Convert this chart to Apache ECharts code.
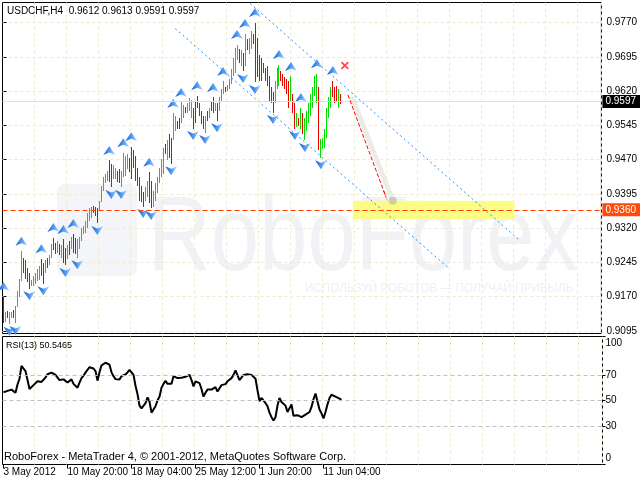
<!DOCTYPE html>
<html><head><meta charset="utf-8">
<script src="https://cdn.jsdelivr.net/npm/echarts@6/dist/echarts.min.js"></script>
<style>html,body{margin:0;padding:0;background:#fff}#c{width:640px;height:481px}</style>
</head><body><div id="c"></div>
<script>
// ---------- data ----------
const symbolName = 'USDCHF,H4';
const lastOHLC = [0.9612, 0.9613, 0.9591, 0.9597];
const timeLabels = ['3 May 2012', '10 May 20:00', '18 May 04:00', '25 May 12:00', '1 Jun 20:00', '11 Jun 04:00'];
const labelStep = 32;
const gridStep = 16;
const totalSlots = 300;

const highs = [
0.9170,0.9137,0.9139,0.9135,0.9137,0.9141,0.9150,0.9183,0.9209,0.9269,
0.9255,0.9249,0.9233,0.9222,0.9207,0.9214,0.9222,0.9231,0.9236,0.9253,
0.9244,0.9249,0.9255,0.9260,0.9286,0.9299,0.9288,0.9292,0.9286,0.9282,
0.9295,0.9277,0.9282,0.9292,0.9301,0.9308,0.9299,0.9297,0.9301,0.9321,
0.9325,0.9336,0.9354,0.9363,0.9365,0.9369,0.9367,0.9363,0.9380,0.9413,
0.9431,0.9439,0.9446,0.9468,0.9461,0.9457,0.9452,0.9446,0.9450,0.9446,
0.9485,0.9477,0.9483,0.9474,0.9498,0.9490,0.9477,0.9452,0.9431,0.9413,
0.9398,0.9409,0.9424,0.9442,0.9424,0.9402,0.9418,0.9431,0.9452,0.9472,
0.9496,0.9505,0.9512,0.9527,0.9518,0.9571,0.9566,0.9555,0.9560,0.9595,
0.9590,0.9586,0.9593,0.9604,0.9601,0.9584,0.9599,0.9610,0.9593,0.9577,
0.9566,0.9566,0.9577,0.9584,0.9599,0.9606,0.9593,0.9593,0.9606,0.9625,
0.9641,0.9630,0.9634,0.9647,0.9669,0.9693,0.9715,0.9722,0.9713,0.9709,
0.9704,0.9746,0.9735,0.9737,0.9752,0.9746,0.9770,0.9737,0.9698,0.9693,
0.9682,0.9671,0.9676,0.9654,0.9628,0.9617,0.9643,0.9671,0.9678,0.9665,
0.9658,0.9650,0.9647,0.9643,0.9652,0.9614,0.9593,0.9571,0.9562,0.9584,
0.9571,0.9562,0.9577,0.9593,0.9614,0.9628,0.9654,0.9658,0.9628,0.9516,
0.9518,0.9538,0.9584,0.9606,0.9628,0.9643,0.9628,0.9632,0.9625,0.9613];

const lows = [
0.9113,0.9115,0.9122,0.9109,0.9122,0.9124,0.9111,0.9148,0.9168,0.9205,
0.9222,0.9209,0.9201,0.9187,0.9192,0.9194,0.9198,0.9205,0.9207,0.9214,
0.9198,0.9222,0.9233,0.9238,0.9255,0.9271,0.9264,0.9266,0.9260,0.9255,
0.9244,0.9238,0.9253,0.9260,0.9275,0.9266,0.9264,0.9255,0.9275,0.9292,
0.9306,0.9310,0.9319,0.9336,0.9341,0.9352,0.9347,0.9330,0.9358,0.9376,
0.9402,0.9418,0.9422,0.9420,0.9409,0.9428,0.9428,0.9420,0.9418,0.9409,
0.9431,0.9433,0.9450,0.9442,0.9428,0.9452,0.9424,0.9413,0.9380,0.9376,
0.9367,0.9380,0.9387,0.9374,0.9363,0.9367,0.9380,0.9396,0.9418,0.9431,
0.9439,0.9483,0.9468,0.9474,0.9461,0.9512,0.9533,0.9538,0.9538,0.9549,
0.9562,0.9573,0.9571,0.9577,0.9562,0.9538,0.9549,0.9584,0.9566,0.9547,
0.9538,0.9529,0.9555,0.9562,0.9577,0.9573,0.9577,0.9555,0.9577,0.9599,
0.9614,0.9617,0.9621,0.9625,0.9636,0.9654,0.9660,0.9687,0.9682,0.9676,
0.9663,0.9676,0.9709,0.9702,0.9713,0.9724,0.9639,0.9650,0.9643,0.9641,
0.9660,0.9643,0.9632,0.9599,0.9593,0.9573,0.9593,0.9625,0.9632,0.9643,
0.9632,0.9625,0.9614,0.9584,0.9599,0.9571,0.9538,0.9542,0.9544,0.9538,
0.9527,0.9512,0.9533,0.9549,0.9566,0.9584,0.9610,0.9593,0.9490,0.9474,
0.9494,0.9496,0.9518,0.9562,0.9584,0.9606,0.9593,0.9599,0.9582,0.9591];

// u = up bar (green), d = down bar (red)
const dirs = 'duduuduuuu' + 'dddduuuuud' + 'duduuddudu' + 'ddududduuu' + 'uuuuuddduu' +
             'uuudduuddu' + 'uuuddddddd' + 'duudduuuuu' + 'ududduuddu' + 'uduuuddddd' +
             'dududduduu' + 'uduuuuuudu' + 'duduuddddd' + 'dddddduuud' + 'dddduddudu' +
             'duuuuuuudu' + 'uuuuudddud';

const rsi = [
56.5,57,57.5,57.8,58.5,59,56,62.5,67,77,
78,73,66,59,60,62,63.3,65,64.5,64.5,
65,68,70.5,71.5,71.8,71,70,69,66,64.5,
66.5,66,64,65,66.5,63,61.5,60,64,67.5,
69.5,71.8,74,76,77,75,73,65.5,72,77.5,
79,79.5,80.3,78,72,69,66.7,65.5,66.5,69,
70.5,70.3,72,74,75,70,61.5,55,46,43.8,
44,48,52.5,49,40.5,43,45.5,50,53,60,
63,65.4,63,64,63,69,68,67.5,67.5,67.8,
68,68.5,68.5,70,66,61,65,64.5,63.5,59,
53,56,58.5,59,58.5,59,60.5,57,56,62,
62.8,62.8,65,66.5,67.5,70,73.6,72.5,66,66,
70,70.5,70.5,70.3,70,70.5,67,58,49.5,52,
51,48,45.5,40.5,37,34.3,37,46,52,48.8,
48.8,46,41,42,47,38,37.5,38.5,38.5,37,
36.4,39,39.5,41,45,51,55.5,54,43,40,
36,41,47,52,54.5,55.5,53,53,51.5,50.5465];

const fracUp = [0,9,19,25,30,35,53,60,64,73,85,89,97,105,110,117,121,126,138,144,149,157,165];
const fracDown = [3,6,13,20,31,37,47,54,59,70,74,84,95,101,107,120,126,135,146,151,159];

const priceTicks = [0.9095,0.9170,0.9245,0.9320,0.9395,0.9470,0.9545,0.9620,0.9695,0.9770];
const rsiTicks = [0,30,50,70,100];
const rsiLevels = [30,50,70];
const bidPrice = 0.9597;
const targetLevel = 0.9360;

// drawn objects, in [bar index, price]
const channelUpper = [[123.5, 0.9812], [258.5, 0.9293]];
const channelLower = [[86, 0.9757], [222.5, 0.9234]];
const targetZone = [[175, 0.9380], [256, 0.9339]];
const forecastArrow = [[172.5, 0.9612], [191.5, 0.9389]];
const forecastShadow = [[174.5, 0.9608], [195, 0.9380]];
const stopMark = [[171, 0.9676]];

// ---------- chart ----------
const FONT = "'Liberation Sans',Arial,sans-serif";
const UP = '#00e000', DOWN = '#ee0000', GRIDC = '#ecebd0';
const cats = Array.from({length: totalSlots}, (_, i) => String(i));
const barData = highs.map((h, i) => [i, lows[i], h, dirs[i] === 'u' ? 1 : 0]);
const isLabel = (i) => i % labelStep === 0 && i / labelStep < timeLabels.length;
const isGrid = (i) => i > 0 && i % gridStep === 0;

const chart = echarts.init(document.getElementById('c'), null, {renderer: 'canvas'});
const arrowFill = () => new echarts.graphic.LinearGradient(0, 0, 1, 0, [
  {offset: 0, color: '#1a5fd4'}, {offset: 0.5, color: '#4a98f2'}, {offset: 1, color: '#c2e0ff'}]);
const upArrow = 'path://M6,0 L12,9 L6,6.5 L0,9 Z';
const downArrow = 'path://M0,0 L6,2.5 L12,0 L6,9 Z';
const xMark = 'path://M0,1.5 L1.5,0 L5,3.5 L8.5,0 L10,1.5 L6.5,5 L10,8.5 L8.5,10 L5,6.5 L1.5,10 L0,8.5 L3.5,5 Z';

const option = {
  animation: false,
  grid: [
    {left: 2.5, top: 2.5, width: 600, height: 331, show: true, borderColor: '#000', borderWidth: 1},
    {left: 2.5, top: 336.5, width: 600, height: 128, show: true, borderColor: '#000', borderWidth: 1}
  ],
  xAxis: [
    {type: 'category', gridIndex: 0, data: cats, boundaryGap: true,
     axisLine: {show: false}, axisTick: {show: false}, axisLabel: {show: false},
     splitLine: {show: true, interval: isGrid, lineStyle: {color: GRIDC, type: [3, 3]}}},
    {type: 'category', gridIndex: 1, data: cats, boundaryGap: true,
     axisLine: {show: false},
     axisTick: {show: true, alignWithLabel: true, interval: isLabel, length: 4, lineStyle: {color: '#000'}},
     axisLabel: {show: true, interval: isLabel, formatter: (v, i) => timeLabels[i / labelStep] || '',
                 align: 'left', margin: 3, fontFamily: FONT, fontSize: 10, color: '#000'},
     splitLine: {show: true, interval: isGrid, lineStyle: {color: GRIDC, type: [3, 3]}}},
    {type: 'value', gridIndex: 0, min: -0.5, max: totalSlots - 0.5, show: false}
  ],
  yAxis: [
    {type: 'value', gridIndex: 0, position: 'right', min: 0.9089, max: 0.9814, scale: true,
     axisLine: {show: false},
     axisTick: {show: true, customValues: priceTicks, length: 3, lineStyle: {color: '#000'}},
     axisLabel: {customValues: priceTicks, formatter: v => v.toFixed(4), margin: 5,
                 fontFamily: FONT, fontSize: 10, color: '#000'},
     splitLine: {show: true, lineStyle: {color: GRIDC, type: [3, 3]}}},
    {type: 'value', gridIndex: 1, position: 'right', min: 0, max: 100,
     axisLine: {show: false},
     axisTick: {show: true, customValues: rsiTicks, length: 3, lineStyle: {color: '#000'}},
     axisLabel: {customValues: rsiTicks, margin: 3, fontFamily: FONT, fontSize: 10, color: '#000',
                 formatter: v => v === 100 ? '{t|100}' : (v === 0 ? '{b|0}' : String(v)),
                 rich: {t: {padding: [14, 0, 0, 0], fontFamily: FONT, fontSize: 10, color: '#000'},
                        b: {padding: [0, 0, 12, 0], fontFamily: FONT, fontSize: 10, color: '#000'}}},
     splitLine: {show: false}}
  ],
  graphic: [
    {type: 'rect', z: 0, silent: true, shape: {x: 57, y: 184, width: 80, height: 92, r: 8}, style: {fill: '#f3f5f8'}},
    {type: 'text', z: 0, silent: true, x: 148, y: 241, scaleX: 0.82,
     style: {text: 'RoboForex', font: '106px "Liberation Sans"', fill: '#f0f2f6', verticalAlign: 'middle'}},
    {type: 'text', z: 0, silent: true, x: 305, y: 288, scaleX: 0.9,
     style: {text: 'ИСПОЛЬЗУЙ РОБОТОВ — ПОЛУЧАЙ ПРИБЫЛЬ', font: '13px "Liberation Sans"', fill: '#eef0f3', verticalAlign: 'middle'}},
    {type: 'text', z: 10, x: 7, y: 11,
     style: {text: symbolName + '  ' + lastOHLC.map(v => v.toFixed(4)).join(' '), font: '10px ' + FONT, fill: '#000', verticalAlign: 'middle'}},
    {type: 'text', z: 10, x: 6, y: 346,
     style: {text: 'RSI(13) ' + rsi[rsi.length - 1].toFixed(4), font: '9px ' + FONT, fill: '#000', verticalAlign: 'middle'}},
    {type: 'text', z: 10, x: 4, y: 457,
     style: {text: 'RoboForex - MetaTrader 4, © 2001-2012, MetaQuotes Software Corp.', font: '11px ' + FONT, fill: '#000', verticalAlign: 'middle'}}
  ],
  series: [
    {name: 'zone', type: 'line', xAxisIndex: 2, yAxisIndex: 0, data: [], z: 1, silent: true,
     markArea: {silent: true, itemStyle: {color: '#fbfb86'},
                data: [[{coord: targetZone[0]}, {coord: targetZone[1]}]]}},
    {name: 'bid', type: 'line', xAxisIndex: 2, yAxisIndex: 0, data: [], z: 1, silent: true,
     markLine: {silent: true, symbol: ['none', 'none'], precision: 4, animation: false,
                lineStyle: {color: '#e2e2c6', type: 'solid', width: 1},
                data: [{yAxis: bidPrice,
                        label: {show: true, position: 'end', distance: 1, formatter: bidPrice.toFixed(4),
                                color: '#fff', backgroundColor: '#000', padding: [2, 4, 1, 3], fontFamily: FONT, fontSize: 10}}]}},
    {name: 'shadow', type: 'line', xAxisIndex: 2, yAxisIndex: 0, data: forecastShadow, z: 1, silent: true,
     symbol: 'none', lineStyle: {color: '#ecece4', width: 5}},
    {name: 'bars', type: 'custom', xAxisIndex: 0, yAxisIndex: 0, z: 2, silent: true,
     encode: {x: 0, y: [1, 2]}, data: barData,
     renderItem: (params, api) => {
       const i = api.value(0);
       const lo = api.coord([i, api.value(1)]);
       const hi = api.coord([i, api.value(2)]);
       const x = Math.floor(lo[0]);
       const y = Math.round(hi[1]);
       const up = api.value(3) === 1;
       return {type: 'rect', shape: {x: x, y: y, width: 1, height: Math.max(1, Math.round(lo[1]) - y)},
               style: {fill: up ? UP : DOWN, stroke: null, opacity: 1}};
     }},
    {name: 'fractalUp', type: 'scatter', xAxisIndex: 0, yAxisIndex: 0, z: 3, silent: true,
     data: fracUp.map(i => [i, highs[i]]), symbol: upArrow, symbolSize: [12, 9], symbolOffset: [0, -10],
     itemStyle: {color: arrowFill(), opacity: 1}},
    {name: 'fractalDown', type: 'scatter', xAxisIndex: 0, yAxisIndex: 0, z: 3, silent: true,
     data: fracDown.map(i => [i, lows[i]]), symbol: downArrow, symbolSize: [12, 9], symbolOffset: [0, 7],
     itemStyle: {color: arrowFill(), opacity: 1}},
    {name: 'channelUpper', type: 'line', xAxisIndex: 2, yAxisIndex: 0, data: channelUpper, z: 4, silent: true,
     symbol: 'none', lineStyle: {color: '#1e90ff', width: 1, type: [2, 3]}},
    {name: 'channelLower', type: 'line', xAxisIndex: 2, yAxisIndex: 0, data: channelLower, z: 4, silent: true,
     symbol: 'none', lineStyle: {color: '#1e90ff', width: 1, type: [2, 3]}},
    {name: 'target', type: 'line', xAxisIndex: 2, yAxisIndex: 0, data: [], z: 5, silent: true,
     markLine: {silent: true, symbol: ['none', 'none'], precision: 4, animation: false,
                lineStyle: {color: '#ff4000', type: [5, 3], width: 1},
                data: [{yAxis: targetLevel,
                        label: {show: true, position: 'end', distance: 1, formatter: targetLevel.toFixed(4),
                                color: '#fff', backgroundColor: '#ff4a0a', padding: [2, 4, 1, 3], fontFamily: FONT, fontSize: 10}}]}},
    {name: 'forecast', type: 'line', xAxisIndex: 2, yAxisIndex: 0, data: [], z: 6, silent: true,
     markLine: {silent: true, symbol: ['none', 'triangle'], symbolSize: [1, 12], precision: 4, animation: false,
                lineStyle: {color: '#ff0000', type: [4, 2], width: 1}, label: {show: false},
                data: [[{coord: forecastArrow[0]}, {coord: forecastArrow[1]}]]}},
    {name: 'shadowEnd', type: 'scatter', xAxisIndex: 2, yAxisIndex: 0, z: 5, silent: true,
     data: [forecastShadow[1]], symbol: 'circle', symbolSize: 8, itemStyle: {color: 'rgba(150,150,140,0.5)'}},
    {name: 'stop', type: 'scatter', xAxisIndex: 2, yAxisIndex: 0, z: 6, silent: true,
     data: stopMark, symbol: xMark, symbolSize: 8, itemStyle: {color: '#ff1a1a'}},
    {name: 'RSI(13)', type: 'line', xAxisIndex: 1, yAxisIndex: 1, data: rsi, z: 3, silent: true,
     symbol: 'none', lineStyle: {color: '#000', width: 2},
     markLine: {silent: true, symbol: ['none', 'none'], precision: 2, animation: false, label: {show: false},
                lineStyle: {color: '#c0c0c0', type: [4, 3], width: 1},
                data: rsiLevels.map(v => ({yAxis: v}))}}
  ]
};
chart.setOption(option);
</script></body></html>
